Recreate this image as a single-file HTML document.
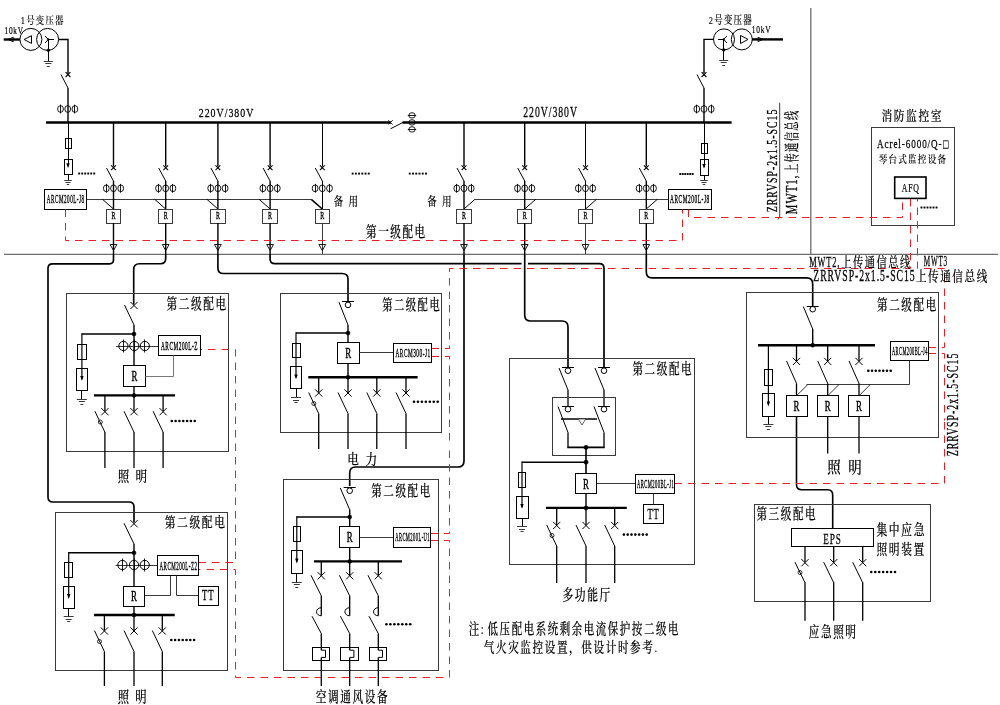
<!DOCTYPE html>
<html lang="zh-CN"><head><meta charset="utf-8"><title>剩余电流式电气火灾监控系统图</title>
<style>html,body{margin:0;padding:0;background:#fff}body{width:1000px;height:705px;overflow:hidden}svg{display:block;will-change:transform}</style>
</head><body>
<svg width="1000" height="705" viewBox="0 0 1000 705" font-family='"Liberation Serif","Noto Serif CJK SC",serif' fill="#000">
<line x1="4" y1="254.4" x2="998" y2="254.4" stroke="#6e6e6e" stroke-width="1.3" stroke-linecap="butt"/>
<line x1="810.8" y1="8" x2="810.8" y2="254.4" stroke="#6e6e6e" stroke-width="1.3" stroke-linecap="butt"/>
<line x1="46" y1="122.4" x2="391" y2="122.4" stroke="#000" stroke-width="2.5" stroke-linecap="butt"/>
<line x1="402.5" y1="122.4" x2="731.6" y2="122.4" stroke="#000" stroke-width="2.5" stroke-linecap="butt"/>
<line x1="388.3" y1="120.2" x2="392.7" y2="124.6" stroke="#000" stroke-width="0.9" stroke-linecap="butt"/>
<line x1="388.3" y1="124.6" x2="392.7" y2="120.2" stroke="#000" stroke-width="0.9" stroke-linecap="butt"/>
<line x1="390.5" y1="128.8" x2="403" y2="122.4" stroke="#000" stroke-width="1" stroke-linecap="butt"/>
<ellipse cx="412" cy="115.4" rx="3.2" ry="2.7" fill="none" stroke="#000" stroke-width="0.9"/>
<line x1="407.8" y1="115.5" x2="416.2" y2="115.5" stroke="#000" stroke-width="0.9" stroke-linecap="butt"/>
<ellipse cx="412" cy="122.4" rx="3.2" ry="2.7" fill="none" stroke="#000" stroke-width="0.9"/>
<ellipse cx="412" cy="129.4" rx="3.2" ry="2.7" fill="none" stroke="#000" stroke-width="0.9"/>
<line x1="407.8" y1="129.5" x2="416.2" y2="129.5" stroke="#000" stroke-width="0.9" stroke-linecap="butt"/>
<circle cx="30.9" cy="39.4" r="11" fill="none" stroke="#000" stroke-width="1"/>
<circle cx="47.6" cy="39.4" r="11" fill="none" stroke="#000" stroke-width="1"/>
<path d="M24.1,39.5 L31.5,35.7 L31.5,43.4 Z" fill="none" stroke="#000" stroke-width="1" stroke-linejoin="miter"/>
<line x1="48.3" y1="39.5" x2="54" y2="39.5" stroke="#000" stroke-width="1" stroke-linecap="butt"/>
<line x1="48.3" y1="39.5" x2="45" y2="36" stroke="#000" stroke-width="1" stroke-linecap="butt"/>
<line x1="48.3" y1="39.5" x2="45" y2="43" stroke="#000" stroke-width="1" stroke-linecap="butt"/>
<line x1="48.5" y1="39.5" x2="48.5" y2="61" stroke="#000" stroke-width="1" stroke-linecap="butt"/>
<circle cx="48.3" cy="50.3" r="1.4" fill="#000" stroke="#000" stroke-width="0.5"/>
<circle cx="48.3" cy="39.5" r="0.9" fill="#000" stroke="#000" stroke-width="0.5"/>
<line x1="43.8" y1="61.5" x2="52.8" y2="61.5" stroke="#3a3a3a" stroke-width="1" stroke-linecap="butt"/>
<line x1="45.3" y1="63.5" x2="51.3" y2="63.5" stroke="#3a3a3a" stroke-width="1" stroke-linecap="butt"/>
<line x1="46.8" y1="66.5" x2="49.8" y2="66.5" stroke="#3a3a3a" stroke-width="1" stroke-linecap="butt"/>
<line x1="3.7" y1="39.5" x2="20" y2="39.5" stroke="#000" stroke-width="2.4" stroke-linecap="butt"/>
<path d="M8.2,39.5 L13.2,37.2 L13.2,41.8 Z" fill="none" stroke="#000" stroke-width="0.9" stroke-linejoin="miter"/>
<path d="M58.6,39.5 H68 V73.5" fill="none" stroke="#000" stroke-width="1.4" stroke-linejoin="miter"/>
<line x1="65.6" y1="72.2" x2="70.4" y2="77" stroke="#000" stroke-width="1.1" stroke-linecap="butt"/>
<line x1="65.6" y1="77" x2="70.4" y2="72.2" stroke="#000" stroke-width="1.1" stroke-linecap="butt"/>
<line x1="61" y1="74.5" x2="68" y2="88" stroke="#000" stroke-width="1" stroke-linecap="butt"/>
<line x1="68" y1="88" x2="68" y2="122.4" stroke="#000" stroke-width="1.4" stroke-linecap="butt"/>
<ellipse cx="60.5" cy="109" rx="2.9" ry="3.4" fill="none" stroke="#000" stroke-width="0.9"/>
<line x1="60.5" y1="104.6" x2="60.5" y2="113.4" stroke="#000" stroke-width="0.9" stroke-linecap="butt"/>
<ellipse cx="67.7" cy="109" rx="2.9" ry="3.4" fill="none" stroke="#000" stroke-width="0.9"/>
<ellipse cx="74.9" cy="109" rx="2.9" ry="3.4" fill="none" stroke="#000" stroke-width="0.9"/>
<line x1="74.5" y1="104.6" x2="74.5" y2="113.4" stroke="#000" stroke-width="0.9" stroke-linecap="butt"/>
<line x1="68.5" y1="122.4" x2="68.5" y2="166.5" stroke="#000" stroke-width="1" stroke-linecap="butt"/>
<rect x="65.5" y="138.5" width="6" height="10" fill="none" stroke="#000" stroke-width="1"/>
<rect x="64.5" y="159.5" width="8" height="15" fill="none" stroke="#000" stroke-width="1"/>
<path d="M66.3,163.3 L68,168.1 L69.7,163.3 Z" fill="#000"/>
<line x1="68.5" y1="174" x2="68.5" y2="180" stroke="#000" stroke-width="1" stroke-linecap="butt"/>
<line x1="64.25" y1="180.5" x2="71.75" y2="180.5" stroke="#3a3a3a" stroke-width="1" stroke-linecap="butt"/>
<line x1="65.5" y1="182.5" x2="70.5" y2="182.5" stroke="#3a3a3a" stroke-width="1" stroke-linecap="butt"/>
<line x1="66.75" y1="184.5" x2="69.25" y2="184.5" stroke="#3a3a3a" stroke-width="1" stroke-linecap="butt"/>
<rect x="78.2" y="172.55" width="1.9" height="1.9" fill="#000"/>
<rect x="81.22" y="172.55" width="1.9" height="1.9" fill="#000"/>
<rect x="84.24" y="172.55" width="1.9" height="1.9" fill="#000"/>
<rect x="87.26" y="172.55" width="1.9" height="1.9" fill="#000"/>
<rect x="90.28" y="172.55" width="1.9" height="1.9" fill="#000"/>
<rect x="93.3" y="172.55" width="1.9" height="1.9" fill="#000"/>
<rect x="44.5" y="189.5" width="42" height="20" fill="none" stroke="#000" stroke-width="1"/>
<circle cx="724" cy="39.4" r="10.5" fill="none" stroke="#000" stroke-width="1"/>
<circle cx="741.8" cy="39.4" r="10.5" fill="none" stroke="#000" stroke-width="1"/>
<path d="M748,39.4 L740.5,35.5 L740.5,43.5 Z" fill="none" stroke="#000" stroke-width="1" stroke-linejoin="miter"/>
<line x1="723.7" y1="39.5" x2="718" y2="39.5" stroke="#000" stroke-width="1" stroke-linecap="butt"/>
<line x1="723.7" y1="39.4" x2="727" y2="36" stroke="#000" stroke-width="1" stroke-linecap="butt"/>
<line x1="723.7" y1="39.4" x2="727" y2="43" stroke="#000" stroke-width="1" stroke-linecap="butt"/>
<line x1="723.5" y1="39.4" x2="723.5" y2="60" stroke="#000" stroke-width="1" stroke-linecap="butt"/>
<circle cx="723.7" cy="50" r="1.4" fill="#000" stroke="#000" stroke-width="0.5"/>
<circle cx="723.7" cy="39.4" r="0.9" fill="#000" stroke="#000" stroke-width="0.5"/>
<line x1="719.2" y1="60.5" x2="728.2" y2="60.5" stroke="#3a3a3a" stroke-width="1" stroke-linecap="butt"/>
<line x1="720.7" y1="62.5" x2="726.7" y2="62.5" stroke="#3a3a3a" stroke-width="1" stroke-linecap="butt"/>
<line x1="722.2" y1="65.5" x2="725.2" y2="65.5" stroke="#3a3a3a" stroke-width="1" stroke-linecap="butt"/>
<line x1="752" y1="39.4" x2="783" y2="39.4" stroke="#000" stroke-width="2.4" stroke-linecap="butt"/>
<path d="M763,39.4 L758,37.2 L758,41.6 Z" fill="none" stroke="#000" stroke-width="0.9" stroke-linejoin="miter"/>
<path d="M714,39.4 H704 V73" fill="none" stroke="#000" stroke-width="1.4" stroke-linejoin="miter"/>
<line x1="701.6" y1="72.2" x2="706.4" y2="77" stroke="#000" stroke-width="1.1" stroke-linecap="butt"/>
<line x1="701.6" y1="77" x2="706.4" y2="72.2" stroke="#000" stroke-width="1.1" stroke-linecap="butt"/>
<line x1="697" y1="74.5" x2="704" y2="88" stroke="#000" stroke-width="1" stroke-linecap="butt"/>
<line x1="704" y1="88" x2="704" y2="122.4" stroke="#000" stroke-width="1.4" stroke-linecap="butt"/>
<ellipse cx="696.8" cy="109" rx="2.9" ry="3.4" fill="none" stroke="#000" stroke-width="0.9"/>
<line x1="696.5" y1="104.6" x2="696.5" y2="113.4" stroke="#000" stroke-width="0.9" stroke-linecap="butt"/>
<ellipse cx="704" cy="109" rx="2.9" ry="3.4" fill="none" stroke="#000" stroke-width="0.9"/>
<ellipse cx="711.2" cy="109" rx="2.9" ry="3.4" fill="none" stroke="#000" stroke-width="0.9"/>
<line x1="711.5" y1="104.6" x2="711.5" y2="113.4" stroke="#000" stroke-width="0.9" stroke-linecap="butt"/>
<line x1="704.5" y1="122.4" x2="704.5" y2="167.15" stroke="#000" stroke-width="1" stroke-linecap="butt"/>
<rect x="701.5" y="143.5" width="6" height="10" fill="none" stroke="#000" stroke-width="1"/>
<rect x="700.5" y="159.5" width="8" height="16" fill="none" stroke="#000" stroke-width="1"/>
<path d="M702.3,163.95 L704,168.75 L705.7,163.95 Z" fill="#000"/>
<line x1="704.5" y1="175.3" x2="704.5" y2="180.7" stroke="#000" stroke-width="1" stroke-linecap="butt"/>
<line x1="700.25" y1="180.5" x2="707.75" y2="180.5" stroke="#3a3a3a" stroke-width="1" stroke-linecap="butt"/>
<line x1="701.5" y1="182.5" x2="706.5" y2="182.5" stroke="#3a3a3a" stroke-width="1" stroke-linecap="butt"/>
<line x1="702.75" y1="184.5" x2="705.25" y2="184.5" stroke="#3a3a3a" stroke-width="1" stroke-linecap="butt"/>
<rect x="679.3" y="173.05" width="1.9" height="1.9" fill="#000"/>
<rect x="681.78" y="173.05" width="1.9" height="1.9" fill="#000"/>
<rect x="684.26" y="173.05" width="1.9" height="1.9" fill="#000"/>
<rect x="686.74" y="173.05" width="1.9" height="1.9" fill="#000"/>
<rect x="689.22" y="173.05" width="1.9" height="1.9" fill="#000"/>
<rect x="691.7" y="173.05" width="1.9" height="1.9" fill="#000"/>
<rect x="668.5" y="189.5" width="43" height="20" fill="none" stroke="#000" stroke-width="1"/>
<line x1="86.7" y1="199.5" x2="311.3" y2="199.5" stroke="#3a3a3a" stroke-width="1" stroke-linecap="butt"/>
<line x1="475" y1="199.5" x2="668.5" y2="199.5" stroke="#3a3a3a" stroke-width="1" stroke-linecap="butt"/>
<line x1="113.5" y1="122.4" x2="113.5" y2="166.5" stroke="#000" stroke-width="1.4" stroke-linecap="butt"/>
<line x1="111.1" y1="165.3" x2="115.9" y2="170.1" stroke="#000" stroke-width="1.1" stroke-linecap="butt"/>
<line x1="111.1" y1="170.1" x2="115.9" y2="165.3" stroke="#000" stroke-width="1.1" stroke-linecap="butt"/>
<line x1="106.5" y1="168" x2="113.5" y2="181" stroke="#000" stroke-width="1" stroke-linecap="butt"/>
<line x1="113.5" y1="181" x2="113.5" y2="209" stroke="#000" stroke-width="1.4" stroke-linecap="butt"/>
<ellipse cx="106.3" cy="188.3" rx="2.9" ry="3.4" fill="none" stroke="#000" stroke-width="0.9"/>
<line x1="106.5" y1="183.9" x2="106.5" y2="192.7" stroke="#000" stroke-width="0.9" stroke-linecap="butt"/>
<ellipse cx="113.5" cy="188.3" rx="2.9" ry="3.4" fill="none" stroke="#000" stroke-width="0.9"/>
<ellipse cx="120.7" cy="188.3" rx="2.9" ry="3.4" fill="none" stroke="#000" stroke-width="0.9"/>
<line x1="120.5" y1="183.9" x2="120.5" y2="192.7" stroke="#000" stroke-width="0.9" stroke-linecap="butt"/>
<line x1="102.5" y1="199.3" x2="113.5" y2="209" stroke="#000" stroke-width="1" stroke-linecap="butt"/>
<rect x="106.5" y="209.5" width="14" height="14" fill="#fff" stroke="#3a3a3a" stroke-width="1"/>
<line x1="113.5" y1="223" x2="113.5" y2="254" stroke="#000" stroke-width="1.4" stroke-linecap="butt"/>
<path d="M110.1,244.5 L116.9,244.5 L113.5,250.5 Z" fill="none" stroke="#000" stroke-width="0.9" stroke-linejoin="miter"/>
<line x1="165.7" y1="122.4" x2="165.7" y2="166.5" stroke="#000" stroke-width="1.4" stroke-linecap="butt"/>
<line x1="163.3" y1="165.3" x2="168.1" y2="170.1" stroke="#000" stroke-width="1.1" stroke-linecap="butt"/>
<line x1="163.3" y1="170.1" x2="168.1" y2="165.3" stroke="#000" stroke-width="1.1" stroke-linecap="butt"/>
<line x1="158.7" y1="168" x2="165.7" y2="181" stroke="#000" stroke-width="1" stroke-linecap="butt"/>
<line x1="165.7" y1="181" x2="165.7" y2="209" stroke="#000" stroke-width="1.4" stroke-linecap="butt"/>
<ellipse cx="158.5" cy="188.3" rx="2.9" ry="3.4" fill="none" stroke="#000" stroke-width="0.9"/>
<line x1="158.5" y1="183.9" x2="158.5" y2="192.7" stroke="#000" stroke-width="0.9" stroke-linecap="butt"/>
<ellipse cx="165.7" cy="188.3" rx="2.9" ry="3.4" fill="none" stroke="#000" stroke-width="0.9"/>
<ellipse cx="172.9" cy="188.3" rx="2.9" ry="3.4" fill="none" stroke="#000" stroke-width="0.9"/>
<line x1="172.5" y1="183.9" x2="172.5" y2="192.7" stroke="#000" stroke-width="0.9" stroke-linecap="butt"/>
<line x1="154.7" y1="199.3" x2="165.7" y2="209" stroke="#000" stroke-width="1" stroke-linecap="butt"/>
<rect x="158.5" y="209.5" width="14" height="14" fill="#fff" stroke="#3a3a3a" stroke-width="1"/>
<line x1="165.7" y1="223" x2="165.7" y2="254" stroke="#000" stroke-width="1.4" stroke-linecap="butt"/>
<path d="M162.3,244.5 L169.1,244.5 L165.7,250.5 Z" fill="none" stroke="#000" stroke-width="0.9" stroke-linejoin="miter"/>
<line x1="217.9" y1="122.4" x2="217.9" y2="166.5" stroke="#000" stroke-width="1.4" stroke-linecap="butt"/>
<line x1="215.5" y1="165.3" x2="220.3" y2="170.1" stroke="#000" stroke-width="1.1" stroke-linecap="butt"/>
<line x1="215.5" y1="170.1" x2="220.3" y2="165.3" stroke="#000" stroke-width="1.1" stroke-linecap="butt"/>
<line x1="210.9" y1="168" x2="217.9" y2="181" stroke="#000" stroke-width="1" stroke-linecap="butt"/>
<line x1="217.9" y1="181" x2="217.9" y2="209" stroke="#000" stroke-width="1.4" stroke-linecap="butt"/>
<ellipse cx="210.7" cy="188.3" rx="2.9" ry="3.4" fill="none" stroke="#000" stroke-width="0.9"/>
<line x1="210.5" y1="183.9" x2="210.5" y2="192.7" stroke="#000" stroke-width="0.9" stroke-linecap="butt"/>
<ellipse cx="217.9" cy="188.3" rx="2.9" ry="3.4" fill="none" stroke="#000" stroke-width="0.9"/>
<ellipse cx="225.1" cy="188.3" rx="2.9" ry="3.4" fill="none" stroke="#000" stroke-width="0.9"/>
<line x1="225.5" y1="183.9" x2="225.5" y2="192.7" stroke="#000" stroke-width="0.9" stroke-linecap="butt"/>
<line x1="206.9" y1="199.3" x2="217.9" y2="209" stroke="#000" stroke-width="1" stroke-linecap="butt"/>
<rect x="210.5" y="209.5" width="15" height="14" fill="#fff" stroke="#3a3a3a" stroke-width="1"/>
<line x1="217.9" y1="223" x2="217.9" y2="254" stroke="#000" stroke-width="1.4" stroke-linecap="butt"/>
<path d="M214.5,244.5 L221.3,244.5 L217.9,250.5 Z" fill="none" stroke="#000" stroke-width="0.9" stroke-linejoin="miter"/>
<line x1="270.1" y1="122.4" x2="270.1" y2="166.5" stroke="#000" stroke-width="1.4" stroke-linecap="butt"/>
<line x1="267.7" y1="165.3" x2="272.5" y2="170.1" stroke="#000" stroke-width="1.1" stroke-linecap="butt"/>
<line x1="267.7" y1="170.1" x2="272.5" y2="165.3" stroke="#000" stroke-width="1.1" stroke-linecap="butt"/>
<line x1="263.1" y1="168" x2="270.1" y2="181" stroke="#000" stroke-width="1" stroke-linecap="butt"/>
<line x1="270.1" y1="181" x2="270.1" y2="209" stroke="#000" stroke-width="1.4" stroke-linecap="butt"/>
<ellipse cx="262.9" cy="188.3" rx="2.9" ry="3.4" fill="none" stroke="#000" stroke-width="0.9"/>
<line x1="262.5" y1="183.9" x2="262.5" y2="192.7" stroke="#000" stroke-width="0.9" stroke-linecap="butt"/>
<ellipse cx="270.1" cy="188.3" rx="2.9" ry="3.4" fill="none" stroke="#000" stroke-width="0.9"/>
<ellipse cx="277.3" cy="188.3" rx="2.9" ry="3.4" fill="none" stroke="#000" stroke-width="0.9"/>
<line x1="277.5" y1="183.9" x2="277.5" y2="192.7" stroke="#000" stroke-width="0.9" stroke-linecap="butt"/>
<line x1="259.1" y1="199.3" x2="270.1" y2="209" stroke="#000" stroke-width="1" stroke-linecap="butt"/>
<rect x="262.5" y="209.5" width="15" height="14" fill="#fff" stroke="#3a3a3a" stroke-width="1"/>
<line x1="270.1" y1="223" x2="270.1" y2="254" stroke="#000" stroke-width="1.4" stroke-linecap="butt"/>
<path d="M266.7,244.5 L273.5,244.5 L270.1,250.5 Z" fill="none" stroke="#000" stroke-width="0.9" stroke-linejoin="miter"/>
<line x1="322.5" y1="122.4" x2="322.5" y2="166.5" stroke="#000" stroke-width="1" stroke-linecap="butt"/>
<line x1="319.9" y1="165.3" x2="324.7" y2="170.1" stroke="#000" stroke-width="1.1" stroke-linecap="butt"/>
<line x1="319.9" y1="170.1" x2="324.7" y2="165.3" stroke="#000" stroke-width="1.1" stroke-linecap="butt"/>
<line x1="315.3" y1="168" x2="322.3" y2="181" stroke="#000" stroke-width="1" stroke-linecap="butt"/>
<line x1="322.5" y1="181" x2="322.5" y2="209" stroke="#000" stroke-width="1" stroke-linecap="butt"/>
<ellipse cx="315.1" cy="188.3" rx="2.9" ry="3.4" fill="none" stroke="#000" stroke-width="0.9"/>
<line x1="315.5" y1="183.9" x2="315.5" y2="192.7" stroke="#000" stroke-width="0.9" stroke-linecap="butt"/>
<ellipse cx="322.3" cy="188.3" rx="2.9" ry="3.4" fill="none" stroke="#000" stroke-width="0.9"/>
<ellipse cx="329.5" cy="188.3" rx="2.9" ry="3.4" fill="none" stroke="#000" stroke-width="0.9"/>
<line x1="329.5" y1="183.9" x2="329.5" y2="192.7" stroke="#000" stroke-width="0.9" stroke-linecap="butt"/>
<line x1="311.3" y1="199.3" x2="322.3" y2="209" stroke="#000" stroke-width="1.6" stroke-linecap="butt"/>
<rect x="315.5" y="209.5" width="14" height="14" fill="#fff" stroke="#3a3a3a" stroke-width="1"/>
<line x1="322.5" y1="223" x2="322.5" y2="254" stroke="#3a3a3a" stroke-width="1" stroke-linecap="butt"/>
<path d="M318.9,244.5 L325.7,244.5 L322.3,250.5 Z" fill="none" stroke="#000" stroke-width="0.9" stroke-linejoin="miter"/>
<line x1="464" y1="122.4" x2="464" y2="166.5" stroke="#000" stroke-width="1.4" stroke-linecap="butt"/>
<line x1="461.6" y1="165.3" x2="466.4" y2="170.1" stroke="#000" stroke-width="1.1" stroke-linecap="butt"/>
<line x1="461.6" y1="170.1" x2="466.4" y2="165.3" stroke="#000" stroke-width="1.1" stroke-linecap="butt"/>
<line x1="457" y1="168" x2="464" y2="181" stroke="#000" stroke-width="1" stroke-linecap="butt"/>
<line x1="464" y1="181" x2="464" y2="209" stroke="#000" stroke-width="1.4" stroke-linecap="butt"/>
<ellipse cx="456.8" cy="188.3" rx="2.9" ry="3.4" fill="none" stroke="#000" stroke-width="0.9"/>
<line x1="456.5" y1="183.9" x2="456.5" y2="192.7" stroke="#000" stroke-width="0.9" stroke-linecap="butt"/>
<ellipse cx="464" cy="188.3" rx="2.9" ry="3.4" fill="none" stroke="#000" stroke-width="0.9"/>
<ellipse cx="471.2" cy="188.3" rx="2.9" ry="3.4" fill="none" stroke="#000" stroke-width="0.9"/>
<line x1="471.5" y1="183.9" x2="471.5" y2="192.7" stroke="#000" stroke-width="0.9" stroke-linecap="butt"/>
<line x1="475" y1="199.3" x2="464" y2="209" stroke="#000" stroke-width="1" stroke-linecap="butt"/>
<rect x="456.5" y="209.5" width="15" height="14" fill="#fff" stroke="#3a3a3a" stroke-width="1"/>
<line x1="464" y1="223" x2="464" y2="254" stroke="#000" stroke-width="1.4" stroke-linecap="butt"/>
<path d="M460.6,244.5 L467.4,244.5 L464,250.5 Z" fill="none" stroke="#000" stroke-width="0.9" stroke-linejoin="miter"/>
<line x1="524.7" y1="122.4" x2="524.7" y2="166.5" stroke="#000" stroke-width="1.4" stroke-linecap="butt"/>
<line x1="522.3" y1="165.3" x2="527.1" y2="170.1" stroke="#000" stroke-width="1.1" stroke-linecap="butt"/>
<line x1="522.3" y1="170.1" x2="527.1" y2="165.3" stroke="#000" stroke-width="1.1" stroke-linecap="butt"/>
<line x1="517.7" y1="168" x2="524.7" y2="181" stroke="#000" stroke-width="1" stroke-linecap="butt"/>
<line x1="524.7" y1="181" x2="524.7" y2="209" stroke="#000" stroke-width="1.4" stroke-linecap="butt"/>
<ellipse cx="517.5" cy="188.3" rx="2.9" ry="3.4" fill="none" stroke="#000" stroke-width="0.9"/>
<line x1="517.5" y1="183.9" x2="517.5" y2="192.7" stroke="#000" stroke-width="0.9" stroke-linecap="butt"/>
<ellipse cx="524.7" cy="188.3" rx="2.9" ry="3.4" fill="none" stroke="#000" stroke-width="0.9"/>
<ellipse cx="531.9" cy="188.3" rx="2.9" ry="3.4" fill="none" stroke="#000" stroke-width="0.9"/>
<line x1="531.5" y1="183.9" x2="531.5" y2="192.7" stroke="#000" stroke-width="0.9" stroke-linecap="butt"/>
<line x1="535.7" y1="199.3" x2="524.7" y2="209" stroke="#000" stroke-width="1" stroke-linecap="butt"/>
<rect x="517.5" y="209.5" width="14" height="14" fill="#fff" stroke="#3a3a3a" stroke-width="1"/>
<line x1="524.7" y1="223" x2="524.7" y2="254" stroke="#000" stroke-width="1.4" stroke-linecap="butt"/>
<path d="M521.3,244.5 L528.1,244.5 L524.7,250.5 Z" fill="none" stroke="#000" stroke-width="0.9" stroke-linejoin="miter"/>
<line x1="585.5" y1="122.4" x2="585.5" y2="166.5" stroke="#000" stroke-width="1" stroke-linecap="butt"/>
<line x1="583.1" y1="165.3" x2="587.9" y2="170.1" stroke="#000" stroke-width="1.1" stroke-linecap="butt"/>
<line x1="583.1" y1="170.1" x2="587.9" y2="165.3" stroke="#000" stroke-width="1.1" stroke-linecap="butt"/>
<line x1="578.5" y1="168" x2="585.5" y2="181" stroke="#000" stroke-width="1" stroke-linecap="butt"/>
<line x1="585.5" y1="181" x2="585.5" y2="209" stroke="#000" stroke-width="1" stroke-linecap="butt"/>
<ellipse cx="578.3" cy="188.3" rx="2.9" ry="3.4" fill="none" stroke="#000" stroke-width="0.9"/>
<line x1="578.5" y1="183.9" x2="578.5" y2="192.7" stroke="#000" stroke-width="0.9" stroke-linecap="butt"/>
<ellipse cx="585.5" cy="188.3" rx="2.9" ry="3.4" fill="none" stroke="#000" stroke-width="0.9"/>
<ellipse cx="592.7" cy="188.3" rx="2.9" ry="3.4" fill="none" stroke="#000" stroke-width="0.9"/>
<line x1="592.5" y1="183.9" x2="592.5" y2="192.7" stroke="#000" stroke-width="0.9" stroke-linecap="butt"/>
<line x1="596.5" y1="199.3" x2="585.5" y2="209" stroke="#000" stroke-width="1" stroke-linecap="butt"/>
<rect x="578.5" y="209.5" width="14" height="14" fill="#fff" stroke="#3a3a3a" stroke-width="1"/>
<line x1="585.5" y1="223" x2="585.5" y2="254" stroke="#3a3a3a" stroke-width="1" stroke-linecap="butt"/>
<path d="M582.1,244.5 L588.9,244.5 L585.5,250.5 Z" fill="none" stroke="#000" stroke-width="0.9" stroke-linejoin="miter"/>
<line x1="646.3" y1="122.4" x2="646.3" y2="166.5" stroke="#000" stroke-width="1.4" stroke-linecap="butt"/>
<line x1="643.9" y1="165.3" x2="648.7" y2="170.1" stroke="#000" stroke-width="1.1" stroke-linecap="butt"/>
<line x1="643.9" y1="170.1" x2="648.7" y2="165.3" stroke="#000" stroke-width="1.1" stroke-linecap="butt"/>
<line x1="639.3" y1="168" x2="646.3" y2="181" stroke="#000" stroke-width="1" stroke-linecap="butt"/>
<line x1="646.3" y1="181" x2="646.3" y2="209" stroke="#000" stroke-width="1.4" stroke-linecap="butt"/>
<ellipse cx="639.1" cy="188.3" rx="2.9" ry="3.4" fill="none" stroke="#000" stroke-width="0.9"/>
<line x1="639.5" y1="183.9" x2="639.5" y2="192.7" stroke="#000" stroke-width="0.9" stroke-linecap="butt"/>
<ellipse cx="646.3" cy="188.3" rx="2.9" ry="3.4" fill="none" stroke="#000" stroke-width="0.9"/>
<ellipse cx="653.5" cy="188.3" rx="2.9" ry="3.4" fill="none" stroke="#000" stroke-width="0.9"/>
<line x1="653.5" y1="183.9" x2="653.5" y2="192.7" stroke="#000" stroke-width="0.9" stroke-linecap="butt"/>
<line x1="657.3" y1="199.3" x2="646.3" y2="209" stroke="#000" stroke-width="1" stroke-linecap="butt"/>
<rect x="639.5" y="209.5" width="14" height="14" fill="#fff" stroke="#3a3a3a" stroke-width="1"/>
<line x1="646.3" y1="223" x2="646.3" y2="254" stroke="#000" stroke-width="1.4" stroke-linecap="butt"/>
<path d="M642.9,244.5 L649.7,244.5 L646.3,250.5 Z" fill="none" stroke="#000" stroke-width="0.9" stroke-linejoin="miter"/>
<rect x="351.7" y="172.65" width="1.9" height="1.9" fill="#000"/>
<rect x="354.92" y="172.65" width="1.9" height="1.9" fill="#000"/>
<rect x="358.14" y="172.65" width="1.9" height="1.9" fill="#000"/>
<rect x="361.36" y="172.65" width="1.9" height="1.9" fill="#000"/>
<rect x="364.58" y="172.65" width="1.9" height="1.9" fill="#000"/>
<rect x="367.8" y="172.65" width="1.9" height="1.9" fill="#000"/>
<rect x="408.8" y="172.65" width="1.9" height="1.9" fill="#000"/>
<rect x="412.04" y="172.65" width="1.9" height="1.9" fill="#000"/>
<rect x="415.28" y="172.65" width="1.9" height="1.9" fill="#000"/>
<rect x="418.52" y="172.65" width="1.9" height="1.9" fill="#000"/>
<rect x="421.76" y="172.65" width="1.9" height="1.9" fill="#000"/>
<rect x="425" y="172.65" width="1.9" height="1.9" fill="#000"/>
<rect x="871.5" y="127.5" width="83" height="98" fill="none" stroke="#3a3a3a" stroke-width="1"/>
<rect x="894.7" y="177" width="31.3" height="21.4" fill="none" stroke="#000" stroke-width="1.6"/>
<rect x="920.5" y="206.55" width="1.9" height="1.9" fill="#000"/>
<rect x="923.52" y="206.55" width="1.9" height="1.9" fill="#000"/>
<rect x="926.54" y="206.55" width="1.9" height="1.9" fill="#000"/>
<rect x="929.56" y="206.55" width="1.9" height="1.9" fill="#000"/>
<rect x="932.58" y="206.55" width="1.9" height="1.9" fill="#000"/>
<rect x="935.6" y="206.55" width="1.9" height="1.9" fill="#000"/>
<path d="M779.7,102.8 V217 L778,219.5" fill="none" stroke="#3a3a3a" stroke-width="1" stroke-linejoin="miter"/>
<path d="M113.5,254 V259.8 Q113.5,263.8 109.5,263.8 H52.5 Q48,263.8 48,268.3 V497 Q48,502 53,502 H129 Q134,502 134,507 V522.5" fill="none" stroke="#000" stroke-width="1.65" stroke-linejoin="round"/>
<path d="M165.7,254 V258.5 Q165.7,263.7 160.5,263.7 H139.5 Q133.7,263.7 133.7,269.5 V304.5" fill="none" stroke="#000" stroke-width="1.65" stroke-linejoin="round"/>
<path d="M217.9,254 V268 Q217.9,273.5 223.5,273.5 H342 Q348,273.5 348,279 V301" fill="none" stroke="#000" stroke-width="1.65" stroke-linejoin="round"/>
<path d="M270.1,254 V259 Q270.1,263.7 275,263.7 H521.6 M528,263.7 H599.5 Q604,263.7 604,268.5 V367" fill="none" stroke="#000" stroke-width="1.7" stroke-linejoin="round"/>
<path d="M464,254 V461 Q464,467 458,467 H355.7 Q349.7,467 349.7,473 V486" fill="none" stroke="#000" stroke-width="1.65" stroke-linejoin="round"/>
<path d="M524.7,254 V315 Q524.7,321 530.5,321 H562 Q568,321 568,327 V367" fill="none" stroke="#000" stroke-width="1.65" stroke-linejoin="round"/>
<path d="M646.3,254 V272 Q646.3,277.8 652,277.8 H806.7 Q812.7,277.8 812.7,284 V306" fill="none" stroke="#000" stroke-width="1.65" stroke-linejoin="round"/>
<path d="M796.5,416 V484.5 Q796.5,489.7 801.5,489.7 H827.7 Q832.7,489.7 832.7,495 V528.5" fill="none" stroke="#000" stroke-width="1.6" stroke-linejoin="round"/>
<path d="M65.5,209.5 V240.5 H682.5 V209.5" fill="none" stroke="#ee1c24" stroke-width="1" stroke-linejoin="miter" stroke-dasharray="7.5 6"/>
<path d="M688.5,209.5 V217.5 H902.5 V198.5" fill="none" stroke="#ee1c24" stroke-width="1" stroke-linejoin="miter" stroke-dasharray="7.5 6"/>
<path d="M431.5,348.5 H449.5 V268.5 H910.5 V198.5" fill="none" stroke="#ee1c24" stroke-width="1" stroke-linejoin="miter" stroke-dasharray="7.5 6"/>
<path d="M431.5,356.5 H449.5 V445.5" fill="none" stroke="#ee1c24" stroke-width="1" stroke-linejoin="miter" stroke-dasharray="7.5 6"/>
<path d="M430.5,533.5 H449.5 V445.5" fill="none" stroke="#ee1c24" stroke-width="1" stroke-linejoin="miter" stroke-dasharray="7.5 6"/>
<path d="M430.5,540.5 H449.5 V677.5 H235.5 V569.5 H198.5" fill="none" stroke="#ee1c24" stroke-width="1" stroke-linejoin="miter" stroke-dasharray="7.5 6"/>
<path d="M198.5,562.5 H235.5 V349.5 H200.5" fill="none" stroke="#ee1c24" stroke-width="1" stroke-linejoin="miter" stroke-dasharray="7.5 6"/>
<path d="M928.5,347.5 H944.5 V268.5 H917.5 V198.5" fill="none" stroke="#ee1c24" stroke-width="1" stroke-linejoin="miter" stroke-dasharray="7.5 6"/>
<path d="M928.5,353.5 H944.5 V420.5" fill="none" stroke="#ee1c24" stroke-width="1" stroke-linejoin="miter" stroke-dasharray="7.5 6"/>
<path d="M674.5,483.5 H944.5 V420.5" fill="none" stroke="#ee1c24" stroke-width="1" stroke-linejoin="miter" stroke-dasharray="7.5 6"/>
<rect x="66.5" y="293.5" width="162" height="158" fill="none" stroke="#3a3a3a" stroke-width="1"/>
<line x1="130.4" y1="301.9" x2="137.6" y2="309.1" stroke="#000" stroke-width="1" stroke-linecap="butt"/>
<line x1="130.4" y1="309.1" x2="137.6" y2="301.9" stroke="#000" stroke-width="1" stroke-linecap="butt"/>
<line x1="124.5" y1="305" x2="134" y2="325" stroke="#000" stroke-width="1" stroke-linecap="butt"/>
<line x1="134" y1="325" x2="134" y2="365.5" stroke="#000" stroke-width="1.4" stroke-linecap="butt"/>
<circle cx="134" cy="334" r="2" fill="#000" stroke="#000" stroke-width="0.5"/>
<path d="M134,334 H81.9" fill="none" stroke="#000" stroke-width="1.4" stroke-linejoin="miter"/>
<line x1="81.9" y1="333.2" x2="81.9" y2="379.2" stroke="#000" stroke-width="1.2" stroke-linecap="butt"/>
<rect x="77.5" y="344.5" width="9" height="15" fill="none" stroke="#000" stroke-width="1"/>
<rect x="76.5" y="368.5" width="11" height="22" fill="none" stroke="#000" stroke-width="1"/>
<path d="M80.2,376 L81.9,380.8 L83.6,376 Z" fill="#000"/>
<line x1="81.5" y1="390.4" x2="81.5" y2="399" stroke="#000" stroke-width="1" stroke-linecap="butt"/>
<line x1="76.9" y1="399.5" x2="86.9" y2="399.5" stroke="#3a3a3a" stroke-width="1" stroke-linecap="butt"/>
<line x1="78.9" y1="401.5" x2="84.9" y2="401.5" stroke="#3a3a3a" stroke-width="1" stroke-linecap="butt"/>
<line x1="80.4" y1="404.5" x2="83.4" y2="404.5" stroke="#3a3a3a" stroke-width="1" stroke-linecap="butt"/>
<line x1="116" y1="346.5" x2="158.6" y2="346.5" stroke="#3a3a3a" stroke-width="1" stroke-linecap="butt"/>
<circle cx="123.4" cy="346" r="4.6" fill="none" stroke="#000" stroke-width="1"/>
<line x1="123.5" y1="339.5" x2="123.5" y2="352.5" stroke="#000" stroke-width="0.9" stroke-linecap="butt"/>
<circle cx="134.3" cy="346" r="4.6" fill="none" stroke="#000" stroke-width="1"/>
<line x1="134.5" y1="339.5" x2="134.5" y2="352.5" stroke="#000" stroke-width="0.9" stroke-linecap="butt"/>
<circle cx="144.8" cy="346" r="4.6" fill="none" stroke="#000" stroke-width="1"/>
<line x1="144.5" y1="339.5" x2="144.5" y2="352.5" stroke="#000" stroke-width="0.9" stroke-linecap="butt"/>
<rect x="158.5" y="335.5" width="42" height="20" fill="none" stroke="#000" stroke-width="1"/>
<rect x="123.5" y="365.5" width="22" height="21" fill="#fff" stroke="#000" stroke-width="1"/>
<path d="M145.5,376.5 H173.5 V355.5" fill="none" stroke="#777" stroke-width="1" stroke-linejoin="miter"/>
<line x1="134" y1="386" x2="134" y2="395.4" stroke="#000" stroke-width="1.4" stroke-linecap="butt"/>
<line x1="94" y1="395.4" x2="175" y2="395.4" stroke="#000" stroke-width="2.4" stroke-linecap="butt"/>
<circle cx="134" cy="395.4" r="2" fill="#000" stroke="#000" stroke-width="0.5"/>
<line x1="104.9" y1="395.4" x2="104.9" y2="411" stroke="#000" stroke-width="1.3" stroke-linecap="butt"/>
<line x1="101.3" y1="408.1" x2="108.5" y2="415.3" stroke="#000" stroke-width="1" stroke-linecap="butt"/>
<line x1="101.3" y1="415.3" x2="108.5" y2="408.1" stroke="#000" stroke-width="1" stroke-linecap="butt"/>
<line x1="94.9" y1="411.2" x2="104.9" y2="432.2" stroke="#000" stroke-width="1" stroke-linecap="butt"/>
<line x1="104.9" y1="432" x2="104.9" y2="468" stroke="#000" stroke-width="1.3" stroke-linecap="butt"/>
<line x1="134" y1="395.4" x2="134" y2="411" stroke="#000" stroke-width="1.3" stroke-linecap="butt"/>
<line x1="130.4" y1="408.1" x2="137.6" y2="415.3" stroke="#000" stroke-width="1" stroke-linecap="butt"/>
<line x1="130.4" y1="415.3" x2="137.6" y2="408.1" stroke="#000" stroke-width="1" stroke-linecap="butt"/>
<line x1="124" y1="411.2" x2="134" y2="432.2" stroke="#000" stroke-width="1" stroke-linecap="butt"/>
<line x1="134" y1="432" x2="134" y2="468" stroke="#000" stroke-width="1.3" stroke-linecap="butt"/>
<line x1="163.1" y1="395.4" x2="163.1" y2="411" stroke="#000" stroke-width="1.3" stroke-linecap="butt"/>
<line x1="159.5" y1="408.1" x2="166.7" y2="415.3" stroke="#000" stroke-width="1" stroke-linecap="butt"/>
<line x1="159.5" y1="415.3" x2="166.7" y2="408.1" stroke="#000" stroke-width="1" stroke-linecap="butt"/>
<line x1="153.1" y1="411.2" x2="163.1" y2="432.2" stroke="#000" stroke-width="1" stroke-linecap="butt"/>
<line x1="163.1" y1="432" x2="163.1" y2="468" stroke="#000" stroke-width="1.3" stroke-linecap="butt"/>
<circle cx="100.3" cy="422" r="2" fill="none" stroke="#000" stroke-width="0.8"/>
<circle cx="171.8" cy="421" r="1.3" fill="#000"/>
<circle cx="175.62" cy="421" r="1.3" fill="#000"/>
<circle cx="179.43" cy="421" r="1.3" fill="#000"/>
<circle cx="183.25" cy="421" r="1.3" fill="#000"/>
<circle cx="187.07" cy="421" r="1.3" fill="#000"/>
<circle cx="190.88" cy="421" r="1.3" fill="#000"/>
<circle cx="194.7" cy="421" r="1.3" fill="#000"/>
<rect x="55.5" y="512.5" width="172" height="158" fill="none" stroke="#3a3a3a" stroke-width="1"/>
<line x1="130.4" y1="520.1" x2="137.6" y2="527.3" stroke="#000" stroke-width="1" stroke-linecap="butt"/>
<line x1="130.4" y1="527.3" x2="137.6" y2="520.1" stroke="#000" stroke-width="1" stroke-linecap="butt"/>
<line x1="124" y1="523.2" x2="134" y2="544" stroke="#000" stroke-width="1" stroke-linecap="butt"/>
<line x1="134" y1="544" x2="134" y2="586" stroke="#000" stroke-width="1.4" stroke-linecap="butt"/>
<circle cx="134" cy="552.8" r="2" fill="#000" stroke="#000" stroke-width="0.5"/>
<path d="M134,552.8 H68.7" fill="none" stroke="#000" stroke-width="1.4" stroke-linejoin="miter"/>
<line x1="68.7" y1="552" x2="68.7" y2="597.3" stroke="#000" stroke-width="1.2" stroke-linecap="butt"/>
<rect x="64.5" y="562.5" width="8" height="15" fill="none" stroke="#000" stroke-width="1"/>
<rect x="63.5" y="586.5" width="11" height="22" fill="none" stroke="#000" stroke-width="1"/>
<path d="M67,594.1 L68.7,598.9 L70.4,594.1 Z" fill="#000"/>
<line x1="68.5" y1="608" x2="68.5" y2="616.7" stroke="#000" stroke-width="1" stroke-linecap="butt"/>
<line x1="63.7" y1="616.5" x2="73.7" y2="616.5" stroke="#3a3a3a" stroke-width="1" stroke-linecap="butt"/>
<line x1="65.7" y1="619.5" x2="71.7" y2="619.5" stroke="#3a3a3a" stroke-width="1" stroke-linecap="butt"/>
<line x1="67.2" y1="621.5" x2="70.2" y2="621.5" stroke="#3a3a3a" stroke-width="1" stroke-linecap="butt"/>
<line x1="115.7" y1="565.5" x2="157.8" y2="565.5" stroke="#3a3a3a" stroke-width="1" stroke-linecap="butt"/>
<circle cx="122.4" cy="565" r="4.6" fill="none" stroke="#000" stroke-width="1"/>
<line x1="122.5" y1="558.5" x2="122.5" y2="571.5" stroke="#000" stroke-width="0.9" stroke-linecap="butt"/>
<circle cx="134" cy="565" r="4.6" fill="none" stroke="#000" stroke-width="1"/>
<line x1="134.5" y1="558.5" x2="134.5" y2="571.5" stroke="#000" stroke-width="0.9" stroke-linecap="butt"/>
<circle cx="144.7" cy="565" r="4.6" fill="none" stroke="#000" stroke-width="1"/>
<line x1="144.5" y1="558.5" x2="144.5" y2="571.5" stroke="#000" stroke-width="0.9" stroke-linecap="butt"/>
<rect x="157.5" y="555.5" width="41" height="20" fill="none" stroke="#000" stroke-width="1"/>
<rect x="123.5" y="586.5" width="21" height="20" fill="#fff" stroke="#000" stroke-width="1"/>
<path d="M145,595.5 H170.5 V575.5" fill="none" stroke="#222" stroke-width="0.9" stroke-linejoin="miter"/>
<rect x="198.5" y="586.5" width="20" height="19" fill="none" stroke="#000" stroke-width="1"/>
<path d="M198,595.5 H176.5 V575.5" fill="none" stroke="#222" stroke-width="0.9" stroke-linejoin="miter"/>
<line x1="134" y1="606.5" x2="134" y2="615" stroke="#000" stroke-width="1.4" stroke-linecap="butt"/>
<line x1="94" y1="615" x2="174.7" y2="615" stroke="#000" stroke-width="2.4" stroke-linecap="butt"/>
<circle cx="134" cy="615" r="2" fill="#000" stroke="#000" stroke-width="0.5"/>
<line x1="104.4" y1="615" x2="104.4" y2="630.5" stroke="#000" stroke-width="1.3" stroke-linecap="butt"/>
<line x1="100.8" y1="627.4" x2="108" y2="634.6" stroke="#000" stroke-width="1" stroke-linecap="butt"/>
<line x1="100.8" y1="634.6" x2="108" y2="627.4" stroke="#000" stroke-width="1" stroke-linecap="butt"/>
<line x1="94.4" y1="630.5" x2="104.4" y2="651.5" stroke="#000" stroke-width="1" stroke-linecap="butt"/>
<line x1="104.4" y1="651.5" x2="104.4" y2="686" stroke="#000" stroke-width="1.3" stroke-linecap="butt"/>
<line x1="134" y1="615" x2="134" y2="630.5" stroke="#000" stroke-width="1.3" stroke-linecap="butt"/>
<line x1="130.4" y1="627.4" x2="137.6" y2="634.6" stroke="#000" stroke-width="1" stroke-linecap="butt"/>
<line x1="130.4" y1="634.6" x2="137.6" y2="627.4" stroke="#000" stroke-width="1" stroke-linecap="butt"/>
<line x1="124" y1="630.5" x2="134" y2="651.5" stroke="#000" stroke-width="1" stroke-linecap="butt"/>
<line x1="134" y1="651.5" x2="134" y2="686" stroke="#000" stroke-width="1.3" stroke-linecap="butt"/>
<line x1="162.3" y1="615" x2="162.3" y2="630.5" stroke="#000" stroke-width="1.3" stroke-linecap="butt"/>
<line x1="158.7" y1="627.4" x2="165.9" y2="634.6" stroke="#000" stroke-width="1" stroke-linecap="butt"/>
<line x1="158.7" y1="634.6" x2="165.9" y2="627.4" stroke="#000" stroke-width="1" stroke-linecap="butt"/>
<line x1="152.3" y1="630.5" x2="162.3" y2="651.5" stroke="#000" stroke-width="1" stroke-linecap="butt"/>
<line x1="162.3" y1="651.5" x2="162.3" y2="686" stroke="#000" stroke-width="1.3" stroke-linecap="butt"/>
<circle cx="99.5" cy="641.5" r="2" fill="none" stroke="#000" stroke-width="0.8"/>
<circle cx="171.3" cy="640" r="1.3" fill="#000"/>
<circle cx="175.1" cy="640" r="1.3" fill="#000"/>
<circle cx="178.9" cy="640" r="1.3" fill="#000"/>
<circle cx="182.7" cy="640" r="1.3" fill="#000"/>
<circle cx="186.5" cy="640" r="1.3" fill="#000"/>
<circle cx="190.3" cy="640" r="1.3" fill="#000"/>
<circle cx="194.1" cy="640" r="1.3" fill="#000"/>
<rect x="280.5" y="293.5" width="161" height="139" fill="none" stroke="#3a3a3a" stroke-width="1"/>
<line x1="342" y1="301.5" x2="354" y2="301.5" stroke="#000" stroke-width="1" stroke-linecap="butt"/>
<circle cx="348" cy="304.9" r="2.8" fill="none" stroke="#000" stroke-width="1"/>
<line x1="339" y1="302.2" x2="348" y2="325" stroke="#000" stroke-width="1" stroke-linecap="butt"/>
<line x1="348" y1="325" x2="348" y2="342.4" stroke="#000" stroke-width="1.4" stroke-linecap="butt"/>
<circle cx="348" cy="333" r="2" fill="#000" stroke="#000" stroke-width="0.5"/>
<path d="M348,333 H296" fill="none" stroke="#000" stroke-width="1.4" stroke-linejoin="miter"/>
<line x1="296" y1="332.2" x2="296" y2="377.6" stroke="#000" stroke-width="1.2" stroke-linecap="butt"/>
<rect x="292.5" y="343.5" width="8" height="14" fill="none" stroke="#000" stroke-width="1"/>
<rect x="290.5" y="366.5" width="11" height="22" fill="none" stroke="#000" stroke-width="1"/>
<path d="M294.3,374.4 L296,379.2 L297.7,374.4 Z" fill="#000"/>
<line x1="296.5" y1="388.7" x2="296.5" y2="397.5" stroke="#000" stroke-width="1" stroke-linecap="butt"/>
<line x1="291" y1="397.5" x2="301" y2="397.5" stroke="#3a3a3a" stroke-width="1" stroke-linecap="butt"/>
<line x1="293" y1="400.5" x2="299" y2="400.5" stroke="#3a3a3a" stroke-width="1" stroke-linecap="butt"/>
<line x1="294.5" y1="402.5" x2="297.5" y2="402.5" stroke="#3a3a3a" stroke-width="1" stroke-linecap="butt"/>
<rect x="337.5" y="342.5" width="22" height="21" fill="#fff" stroke="#000" stroke-width="1"/>
<line x1="359" y1="352.5" x2="393.8" y2="352.5" stroke="#222" stroke-width="0.9" stroke-linecap="butt"/>
<rect x="393.5" y="343.5" width="38" height="19" fill="none" stroke="#000" stroke-width="1"/>
<line x1="348" y1="363.3" x2="348" y2="377.3" stroke="#000" stroke-width="1.4" stroke-linecap="butt"/>
<line x1="308.3" y1="377.3" x2="417.6" y2="377.3" stroke="#000" stroke-width="2.4" stroke-linecap="butt"/>
<circle cx="348" cy="377.3" r="2" fill="#000" stroke="#000" stroke-width="0.5"/>
<line x1="318.7" y1="377.3" x2="318.7" y2="392.5" stroke="#000" stroke-width="1.3" stroke-linecap="butt"/>
<line x1="315.1" y1="389.4" x2="322.3" y2="396.6" stroke="#000" stroke-width="1" stroke-linecap="butt"/>
<line x1="315.1" y1="396.6" x2="322.3" y2="389.4" stroke="#000" stroke-width="1" stroke-linecap="butt"/>
<line x1="308.7" y1="392.5" x2="318.7" y2="413.5" stroke="#000" stroke-width="1" stroke-linecap="butt"/>
<line x1="318.7" y1="413.5" x2="318.7" y2="449" stroke="#000" stroke-width="1.3" stroke-linecap="butt"/>
<line x1="348" y1="377.3" x2="348" y2="392.5" stroke="#000" stroke-width="1.3" stroke-linecap="butt"/>
<line x1="344.4" y1="389.4" x2="351.6" y2="396.6" stroke="#000" stroke-width="1" stroke-linecap="butt"/>
<line x1="344.4" y1="396.6" x2="351.6" y2="389.4" stroke="#000" stroke-width="1" stroke-linecap="butt"/>
<line x1="338" y1="392.5" x2="348" y2="413.5" stroke="#000" stroke-width="1" stroke-linecap="butt"/>
<line x1="348" y1="413.5" x2="348" y2="449" stroke="#000" stroke-width="1.3" stroke-linecap="butt"/>
<line x1="376.8" y1="377.3" x2="376.8" y2="392.5" stroke="#000" stroke-width="1.3" stroke-linecap="butt"/>
<line x1="373.2" y1="389.4" x2="380.4" y2="396.6" stroke="#000" stroke-width="1" stroke-linecap="butt"/>
<line x1="373.2" y1="396.6" x2="380.4" y2="389.4" stroke="#000" stroke-width="1" stroke-linecap="butt"/>
<line x1="366.8" y1="392.5" x2="376.8" y2="413.5" stroke="#000" stroke-width="1" stroke-linecap="butt"/>
<line x1="376.8" y1="413.5" x2="376.8" y2="449" stroke="#000" stroke-width="1.3" stroke-linecap="butt"/>
<line x1="406" y1="377.3" x2="406" y2="392.5" stroke="#000" stroke-width="1.3" stroke-linecap="butt"/>
<line x1="402.4" y1="389.4" x2="409.6" y2="396.6" stroke="#000" stroke-width="1" stroke-linecap="butt"/>
<line x1="402.4" y1="396.6" x2="409.6" y2="389.4" stroke="#000" stroke-width="1" stroke-linecap="butt"/>
<line x1="396" y1="392.5" x2="406" y2="413.5" stroke="#000" stroke-width="1" stroke-linecap="butt"/>
<line x1="406" y1="413.5" x2="406" y2="449" stroke="#000" stroke-width="1.3" stroke-linecap="butt"/>
<circle cx="313.8" cy="403.5" r="2" fill="none" stroke="#000" stroke-width="0.8"/>
<circle cx="414" cy="401.8" r="1.3" fill="#000"/>
<circle cx="417.95" cy="401.8" r="1.3" fill="#000"/>
<circle cx="421.9" cy="401.8" r="1.3" fill="#000"/>
<circle cx="425.85" cy="401.8" r="1.3" fill="#000"/>
<circle cx="429.8" cy="401.8" r="1.3" fill="#000"/>
<circle cx="433.75" cy="401.8" r="1.3" fill="#000"/>
<circle cx="437.7" cy="401.8" r="1.3" fill="#000"/>
<rect x="283.5" y="479.5" width="155" height="191" fill="none" stroke="#3a3a3a" stroke-width="1"/>
<line x1="343.7" y1="487.5" x2="355.7" y2="487.5" stroke="#000" stroke-width="1" stroke-linecap="butt"/>
<circle cx="349.7" cy="490.7" r="2.8" fill="none" stroke="#000" stroke-width="1"/>
<line x1="340.3" y1="488" x2="349.7" y2="509.7" stroke="#000" stroke-width="1" stroke-linecap="butt"/>
<line x1="349.7" y1="509.5" x2="349.7" y2="526.7" stroke="#000" stroke-width="1.4" stroke-linecap="butt"/>
<circle cx="349.7" cy="517" r="2" fill="#000" stroke="#000" stroke-width="0.5"/>
<path d="M349.7,517 H296.5" fill="none" stroke="#000" stroke-width="1.4" stroke-linejoin="miter"/>
<line x1="296.8" y1="516.2" x2="296.8" y2="561.8" stroke="#000" stroke-width="1.2" stroke-linecap="butt"/>
<rect x="293.5" y="526.5" width="7" height="15" fill="none" stroke="#000" stroke-width="1"/>
<rect x="291.5" y="550.5" width="11" height="23" fill="none" stroke="#000" stroke-width="1"/>
<path d="M295.1,558.6 L296.8,563.4 L298.5,558.6 Z" fill="#000"/>
<line x1="296.5" y1="573" x2="296.5" y2="582" stroke="#000" stroke-width="1" stroke-linecap="butt"/>
<line x1="291.8" y1="582.5" x2="301.8" y2="582.5" stroke="#3a3a3a" stroke-width="1" stroke-linecap="butt"/>
<line x1="293.8" y1="584.5" x2="299.8" y2="584.5" stroke="#3a3a3a" stroke-width="1" stroke-linecap="butt"/>
<line x1="295.3" y1="587.5" x2="298.3" y2="587.5" stroke="#3a3a3a" stroke-width="1" stroke-linecap="butt"/>
<rect x="339.5" y="526.5" width="20" height="21" fill="#fff" stroke="#000" stroke-width="1"/>
<line x1="359.5" y1="537.5" x2="393.9" y2="537.5" stroke="#222" stroke-width="0.9" stroke-linecap="butt"/>
<rect x="393.5" y="527.5" width="37" height="20" fill="none" stroke="#000" stroke-width="1"/>
<line x1="349.7" y1="547.7" x2="349.7" y2="561.4" stroke="#000" stroke-width="1.4" stroke-linecap="butt"/>
<line x1="314" y1="561.4" x2="402" y2="561.4" stroke="#000" stroke-width="2.4" stroke-linecap="butt"/>
<circle cx="349.7" cy="561.4" r="2" fill="#000" stroke="#000" stroke-width="0.5"/>
<line x1="321.3" y1="561.4" x2="321.3" y2="575.5" stroke="#000" stroke-width="1.3" stroke-linecap="butt"/>
<line x1="317.7" y1="572.2" x2="324.9" y2="579.4" stroke="#000" stroke-width="1" stroke-linecap="butt"/>
<line x1="317.7" y1="579.4" x2="324.9" y2="572.2" stroke="#000" stroke-width="1" stroke-linecap="butt"/>
<line x1="311" y1="575.3" x2="321.3" y2="595.8" stroke="#000" stroke-width="1" stroke-linecap="butt"/>
<line x1="321.3" y1="595.7" x2="321.3" y2="615.8" stroke="#000" stroke-width="1.3" stroke-linecap="butt"/>
<path d="M321.3,607.7 A4.8,4.05 0 0 0 321.3,615.8" fill="none" stroke="#000" stroke-width="1" stroke-linejoin="round"/>
<line x1="312" y1="616.2" x2="321.3" y2="633.5" stroke="#000" stroke-width="1" stroke-linecap="butt"/>
<line x1="321.3" y1="633.5" x2="321.3" y2="650.2" stroke="#000" stroke-width="1.3" stroke-linecap="butt"/>
<rect x="312.5" y="647.5" width="17" height="13" fill="none" stroke="#000" stroke-width="1"/>
<path d="M321.3,650.2 H325.5 V657.4 H321.3" fill="none" stroke="#000" stroke-width="1" stroke-linejoin="miter"/>
<line x1="321.3" y1="657.4" x2="321.3" y2="686" stroke="#000" stroke-width="1.3" stroke-linecap="butt"/>
<line x1="349.7" y1="561.4" x2="349.7" y2="575.5" stroke="#000" stroke-width="1.3" stroke-linecap="butt"/>
<line x1="346.1" y1="572.2" x2="353.3" y2="579.4" stroke="#000" stroke-width="1" stroke-linecap="butt"/>
<line x1="346.1" y1="579.4" x2="353.3" y2="572.2" stroke="#000" stroke-width="1" stroke-linecap="butt"/>
<line x1="339.4" y1="575.3" x2="349.7" y2="595.8" stroke="#000" stroke-width="1" stroke-linecap="butt"/>
<line x1="349.7" y1="595.7" x2="349.7" y2="615.8" stroke="#000" stroke-width="1.3" stroke-linecap="butt"/>
<path d="M349.7,607.7 A4.8,4.05 0 0 0 349.7,615.8" fill="none" stroke="#000" stroke-width="1" stroke-linejoin="round"/>
<line x1="340.4" y1="616.2" x2="349.7" y2="633.5" stroke="#000" stroke-width="1" stroke-linecap="butt"/>
<line x1="349.7" y1="633.5" x2="349.7" y2="650.2" stroke="#000" stroke-width="1.3" stroke-linecap="butt"/>
<rect x="340.5" y="647.5" width="18" height="13" fill="none" stroke="#000" stroke-width="1"/>
<path d="M349.7,650.2 H353.9 V657.4 H349.7" fill="none" stroke="#000" stroke-width="1" stroke-linejoin="miter"/>
<line x1="349.7" y1="657.4" x2="349.7" y2="686" stroke="#000" stroke-width="1.3" stroke-linecap="butt"/>
<line x1="378.3" y1="561.4" x2="378.3" y2="575.5" stroke="#000" stroke-width="1.3" stroke-linecap="butt"/>
<line x1="374.7" y1="572.2" x2="381.9" y2="579.4" stroke="#000" stroke-width="1" stroke-linecap="butt"/>
<line x1="374.7" y1="579.4" x2="381.9" y2="572.2" stroke="#000" stroke-width="1" stroke-linecap="butt"/>
<line x1="368" y1="575.3" x2="378.3" y2="595.8" stroke="#000" stroke-width="1" stroke-linecap="butt"/>
<line x1="378.3" y1="595.7" x2="378.3" y2="615.8" stroke="#000" stroke-width="1.3" stroke-linecap="butt"/>
<path d="M378.3,607.7 A4.8,4.05 0 0 0 378.3,615.8" fill="none" stroke="#000" stroke-width="1" stroke-linejoin="round"/>
<line x1="369" y1="616.2" x2="378.3" y2="633.5" stroke="#000" stroke-width="1" stroke-linecap="butt"/>
<line x1="378.3" y1="633.5" x2="378.3" y2="650.2" stroke="#000" stroke-width="1.3" stroke-linecap="butt"/>
<rect x="369.5" y="647.5" width="17" height="13" fill="none" stroke="#000" stroke-width="1"/>
<path d="M378.3,650.2 H382.5 V657.4 H378.3" fill="none" stroke="#000" stroke-width="1" stroke-linejoin="miter"/>
<line x1="378.3" y1="657.4" x2="378.3" y2="686" stroke="#000" stroke-width="1.3" stroke-linecap="butt"/>
<circle cx="386.4" cy="624.2" r="1.3" fill="#000"/>
<circle cx="390.37" cy="624.2" r="1.3" fill="#000"/>
<circle cx="394.33" cy="624.2" r="1.3" fill="#000"/>
<circle cx="398.3" cy="624.2" r="1.3" fill="#000"/>
<circle cx="402.27" cy="624.2" r="1.3" fill="#000"/>
<circle cx="406.23" cy="624.2" r="1.3" fill="#000"/>
<circle cx="410.2" cy="624.2" r="1.3" fill="#000"/>
<rect x="509.5" y="358.5" width="185" height="206" fill="none" stroke="#3a3a3a" stroke-width="1"/>
<line x1="562" y1="367.5" x2="574" y2="367.5" stroke="#000" stroke-width="1" stroke-linecap="butt"/>
<circle cx="568" cy="370.7" r="2.8" fill="none" stroke="#000" stroke-width="1"/>
<line x1="559" y1="368" x2="568" y2="390" stroke="#000" stroke-width="1" stroke-linecap="butt"/>
<line x1="568" y1="390" x2="568" y2="406" stroke="#000" stroke-width="1.3" stroke-linecap="butt"/>
<line x1="562" y1="406.5" x2="574" y2="406.5" stroke="#000" stroke-width="1" stroke-linecap="butt"/>
<circle cx="568" cy="409.2" r="2.8" fill="none" stroke="#000" stroke-width="1"/>
<line x1="558" y1="406.5" x2="568" y2="432.5" stroke="#000" stroke-width="1" stroke-linecap="butt"/>
<line x1="568" y1="432.5" x2="568" y2="447.4" stroke="#000" stroke-width="1.3" stroke-linecap="butt"/>
<line x1="598" y1="367.5" x2="610" y2="367.5" stroke="#000" stroke-width="1" stroke-linecap="butt"/>
<circle cx="604" cy="370.7" r="2.8" fill="none" stroke="#000" stroke-width="1"/>
<line x1="595" y1="368" x2="604" y2="390" stroke="#000" stroke-width="1" stroke-linecap="butt"/>
<line x1="604" y1="390" x2="604" y2="406" stroke="#000" stroke-width="1.3" stroke-linecap="butt"/>
<line x1="598" y1="406.5" x2="610" y2="406.5" stroke="#000" stroke-width="1" stroke-linecap="butt"/>
<circle cx="604" cy="409.2" r="2.8" fill="none" stroke="#000" stroke-width="1"/>
<line x1="594" y1="406.5" x2="604" y2="432.5" stroke="#000" stroke-width="1" stroke-linecap="butt"/>
<line x1="604" y1="432.5" x2="604" y2="447.4" stroke="#000" stroke-width="1.3" stroke-linecap="butt"/>
<rect x="552.5" y="397.5" width="63" height="58" fill="none" stroke="#3a3a3a" stroke-width="1"/>
<line x1="561" y1="419" x2="597" y2="419" stroke="#000" stroke-width="1.6" stroke-linecap="butt"/>
<path d="M578.3,419 L585.7,419 L582,425 Z" fill="#fff" stroke="#3a3a3a" stroke-width="0.8" stroke-linejoin="miter"/>
<line x1="567.3" y1="447.4" x2="604.7" y2="447.4" stroke="#000" stroke-width="1.6" stroke-linecap="butt"/>
<circle cx="586" cy="447.4" r="2.1" fill="#000" stroke="#000" stroke-width="0.5"/>
<line x1="586" y1="447.4" x2="586" y2="473.3" stroke="#000" stroke-width="1.6" stroke-linecap="butt"/>
<circle cx="586" cy="462.2" r="2.1" fill="#000" stroke="#000" stroke-width="0.5"/>
<path d="M586,462.2 H521.8" fill="none" stroke="#000" stroke-width="1.4" stroke-linejoin="miter"/>
<line x1="522" y1="461.4" x2="522" y2="507.15" stroke="#000" stroke-width="1.2" stroke-linecap="butt"/>
<rect x="518.5" y="472.5" width="7" height="15" fill="none" stroke="#000" stroke-width="1"/>
<rect x="516.5" y="496.5" width="12" height="22" fill="none" stroke="#000" stroke-width="1"/>
<path d="M520.3,503.95 L522,508.75 L523.7,503.95 Z" fill="#000"/>
<line x1="522.5" y1="518.3" x2="522.5" y2="526.5" stroke="#000" stroke-width="1" stroke-linecap="butt"/>
<line x1="517" y1="526.5" x2="527" y2="526.5" stroke="#3a3a3a" stroke-width="1" stroke-linecap="butt"/>
<line x1="519" y1="529.5" x2="525" y2="529.5" stroke="#3a3a3a" stroke-width="1" stroke-linecap="butt"/>
<line x1="520.5" y1="531.5" x2="523.5" y2="531.5" stroke="#3a3a3a" stroke-width="1" stroke-linecap="butt"/>
<rect x="575.5" y="473.5" width="21" height="20" fill="#fff" stroke="#000" stroke-width="1"/>
<line x1="596.8" y1="483.5" x2="635.6" y2="483.5" stroke="#222" stroke-width="0.9" stroke-linecap="butt"/>
<rect x="635.5" y="474.5" width="39" height="19" fill="none" stroke="#000" stroke-width="1"/>
<line x1="653.5" y1="493.8" x2="653.5" y2="504.3" stroke="#222" stroke-width="0.9" stroke-linecap="butt"/>
<rect x="643.5" y="504.5" width="20" height="19" fill="none" stroke="#000" stroke-width="1"/>
<line x1="586" y1="493.8" x2="586" y2="507.9" stroke="#000" stroke-width="1.4" stroke-linecap="butt"/>
<line x1="546" y1="507.9" x2="626.8" y2="507.9" stroke="#000" stroke-width="2.4" stroke-linecap="butt"/>
<circle cx="586" cy="507.9" r="2" fill="#000" stroke="#000" stroke-width="0.5"/>
<line x1="556.7" y1="507.9" x2="556.7" y2="525" stroke="#000" stroke-width="1.3" stroke-linecap="butt"/>
<line x1="553.1" y1="521.9" x2="560.3" y2="529.1" stroke="#000" stroke-width="1" stroke-linecap="butt"/>
<line x1="553.1" y1="529.1" x2="560.3" y2="521.9" stroke="#000" stroke-width="1" stroke-linecap="butt"/>
<line x1="546.7" y1="525" x2="556.7" y2="546" stroke="#000" stroke-width="1" stroke-linecap="butt"/>
<line x1="556.7" y1="546" x2="556.7" y2="583" stroke="#000" stroke-width="1.3" stroke-linecap="butt"/>
<line x1="586" y1="507.9" x2="586" y2="525" stroke="#000" stroke-width="1.3" stroke-linecap="butt"/>
<line x1="582.4" y1="521.9" x2="589.6" y2="529.1" stroke="#000" stroke-width="1" stroke-linecap="butt"/>
<line x1="582.4" y1="529.1" x2="589.6" y2="521.9" stroke="#000" stroke-width="1" stroke-linecap="butt"/>
<line x1="576" y1="525" x2="586" y2="546" stroke="#000" stroke-width="1" stroke-linecap="butt"/>
<line x1="586" y1="546" x2="586" y2="583" stroke="#000" stroke-width="1.3" stroke-linecap="butt"/>
<line x1="614.7" y1="507.9" x2="614.7" y2="525" stroke="#000" stroke-width="1.3" stroke-linecap="butt"/>
<line x1="611.1" y1="521.9" x2="618.3" y2="529.1" stroke="#000" stroke-width="1" stroke-linecap="butt"/>
<line x1="611.1" y1="529.1" x2="618.3" y2="521.9" stroke="#000" stroke-width="1" stroke-linecap="butt"/>
<line x1="604.7" y1="525" x2="614.7" y2="546" stroke="#000" stroke-width="1" stroke-linecap="butt"/>
<line x1="614.7" y1="546" x2="614.7" y2="583" stroke="#000" stroke-width="1.3" stroke-linecap="butt"/>
<circle cx="552" cy="535.5" r="2" fill="none" stroke="#000" stroke-width="0.8"/>
<circle cx="623.9" cy="534.6" r="1.3" fill="#000"/>
<circle cx="627.7" cy="534.6" r="1.3" fill="#000"/>
<circle cx="631.5" cy="534.6" r="1.3" fill="#000"/>
<circle cx="635.3" cy="534.6" r="1.3" fill="#000"/>
<circle cx="639.1" cy="534.6" r="1.3" fill="#000"/>
<circle cx="642.9" cy="534.6" r="1.3" fill="#000"/>
<circle cx="646.7" cy="534.6" r="1.3" fill="#000"/>
<rect x="746.5" y="292.5" width="192" height="145" fill="none" stroke="#3a3a3a" stroke-width="1"/>
<line x1="806.7" y1="306.5" x2="818.7" y2="306.5" stroke="#000" stroke-width="1" stroke-linecap="butt"/>
<circle cx="812.7" cy="309.2" r="2.8" fill="none" stroke="#000" stroke-width="1"/>
<line x1="803.3" y1="306.5" x2="812.7" y2="329" stroke="#000" stroke-width="1" stroke-linecap="butt"/>
<line x1="812.7" y1="329" x2="812.7" y2="345.2" stroke="#000" stroke-width="1.4" stroke-linecap="butt"/>
<line x1="758" y1="345.2" x2="875" y2="345.2" stroke="#000" stroke-width="2.4" stroke-linecap="butt"/>
<circle cx="812.7" cy="345.2" r="2" fill="#000" stroke="#000" stroke-width="0.5"/>
<line x1="768.4" y1="345.2" x2="768.4" y2="404.8" stroke="#000" stroke-width="1.2" stroke-linecap="butt"/>
<rect x="764.5" y="369.5" width="8" height="16" fill="none" stroke="#000" stroke-width="1"/>
<rect x="762.5" y="393.5" width="12" height="23" fill="none" stroke="#000" stroke-width="1"/>
<path d="M766.7,401.6 L768.4,406.4 L770.1,401.6 Z" fill="#000"/>
<line x1="768.5" y1="416" x2="768.5" y2="424" stroke="#000" stroke-width="1" stroke-linecap="butt"/>
<line x1="763.4" y1="424.5" x2="773.4" y2="424.5" stroke="#3a3a3a" stroke-width="1" stroke-linecap="butt"/>
<line x1="765.4" y1="426.5" x2="771.4" y2="426.5" stroke="#3a3a3a" stroke-width="1" stroke-linecap="butt"/>
<line x1="766.9" y1="429.5" x2="769.9" y2="429.5" stroke="#3a3a3a" stroke-width="1" stroke-linecap="butt"/>
<rect x="890.5" y="341.5" width="38" height="19" fill="none" stroke="#000" stroke-width="1"/>
<path d="M806.5,384.5 H909.5 V360.5" fill="none" stroke="#222" stroke-width="0.9" stroke-linejoin="miter"/>
<line x1="796.5" y1="345.2" x2="796.5" y2="361" stroke="#000" stroke-width="1.3" stroke-linecap="butt"/>
<line x1="792.9" y1="357.8" x2="800.1" y2="365" stroke="#000" stroke-width="1" stroke-linecap="butt"/>
<line x1="792.9" y1="365" x2="800.1" y2="357.8" stroke="#000" stroke-width="1" stroke-linecap="butt"/>
<line x1="786.5" y1="360.9" x2="796.5" y2="383.4" stroke="#000" stroke-width="1" stroke-linecap="butt"/>
<line x1="796.5" y1="383.3" x2="796.5" y2="395.8" stroke="#000" stroke-width="1.3" stroke-linecap="butt"/>
<line x1="796.5" y1="395.8" x2="807.5" y2="384.8" stroke="#222" stroke-width="0.9" stroke-linecap="butt"/>
<rect x="786.5" y="395.5" width="21" height="21" fill="#fff" stroke="#000" stroke-width="1"/>
<line x1="827.7" y1="345.2" x2="827.7" y2="361" stroke="#000" stroke-width="1.3" stroke-linecap="butt"/>
<line x1="824.1" y1="357.8" x2="831.3" y2="365" stroke="#000" stroke-width="1" stroke-linecap="butt"/>
<line x1="824.1" y1="365" x2="831.3" y2="357.8" stroke="#000" stroke-width="1" stroke-linecap="butt"/>
<line x1="817.7" y1="360.9" x2="827.7" y2="383.4" stroke="#000" stroke-width="1" stroke-linecap="butt"/>
<line x1="827.7" y1="383.3" x2="827.7" y2="395.8" stroke="#000" stroke-width="1.3" stroke-linecap="butt"/>
<line x1="827.7" y1="395.8" x2="838.7" y2="384.8" stroke="#222" stroke-width="0.9" stroke-linecap="butt"/>
<rect x="817.5" y="395.5" width="21" height="21" fill="#fff" stroke="#000" stroke-width="1"/>
<line x1="827.7" y1="416" x2="827.7" y2="453.5" stroke="#000" stroke-width="1.3" stroke-linecap="butt"/>
<line x1="859" y1="345.2" x2="859" y2="361" stroke="#000" stroke-width="1.3" stroke-linecap="butt"/>
<line x1="855.4" y1="357.8" x2="862.6" y2="365" stroke="#000" stroke-width="1" stroke-linecap="butt"/>
<line x1="855.4" y1="365" x2="862.6" y2="357.8" stroke="#000" stroke-width="1" stroke-linecap="butt"/>
<line x1="849" y1="360.9" x2="859" y2="383.4" stroke="#000" stroke-width="1" stroke-linecap="butt"/>
<line x1="859" y1="383.3" x2="859" y2="395.8" stroke="#000" stroke-width="1.3" stroke-linecap="butt"/>
<line x1="859" y1="395.8" x2="870" y2="384.8" stroke="#222" stroke-width="0.9" stroke-linecap="butt"/>
<rect x="848.5" y="395.5" width="21" height="21" fill="#fff" stroke="#000" stroke-width="1"/>
<line x1="859" y1="416" x2="859" y2="453.5" stroke="#000" stroke-width="1.3" stroke-linecap="butt"/>
<circle cx="868.3" cy="370.8" r="1.3" fill="#000"/>
<circle cx="872.03" cy="370.8" r="1.3" fill="#000"/>
<circle cx="875.77" cy="370.8" r="1.3" fill="#000"/>
<circle cx="879.5" cy="370.8" r="1.3" fill="#000"/>
<circle cx="883.23" cy="370.8" r="1.3" fill="#000"/>
<circle cx="886.97" cy="370.8" r="1.3" fill="#000"/>
<circle cx="890.7" cy="370.8" r="1.3" fill="#000"/>
<rect x="754.5" y="504.5" width="176" height="97" fill="none" stroke="#3a3a3a" stroke-width="1"/>
<rect x="791.5" y="528.5" width="82" height="18" fill="#fff" stroke="#000" stroke-width="1"/>
<line x1="805" y1="546.7" x2="805" y2="562" stroke="#000" stroke-width="1.3" stroke-linecap="butt"/>
<line x1="801.4" y1="559.1" x2="808.6" y2="566.3" stroke="#000" stroke-width="1" stroke-linecap="butt"/>
<line x1="801.4" y1="566.3" x2="808.6" y2="559.1" stroke="#000" stroke-width="1" stroke-linecap="butt"/>
<line x1="795" y1="562.2" x2="805" y2="582.7" stroke="#000" stroke-width="1" stroke-linecap="butt"/>
<line x1="805" y1="582.3" x2="805" y2="620.7" stroke="#000" stroke-width="1.3" stroke-linecap="butt"/>
<line x1="833.7" y1="546.7" x2="833.7" y2="562" stroke="#000" stroke-width="1.3" stroke-linecap="butt"/>
<line x1="830.1" y1="559.1" x2="837.3" y2="566.3" stroke="#000" stroke-width="1" stroke-linecap="butt"/>
<line x1="830.1" y1="566.3" x2="837.3" y2="559.1" stroke="#000" stroke-width="1" stroke-linecap="butt"/>
<line x1="823.7" y1="562.2" x2="833.7" y2="582.7" stroke="#000" stroke-width="1" stroke-linecap="butt"/>
<line x1="833.7" y1="582.3" x2="833.7" y2="620.7" stroke="#000" stroke-width="1.3" stroke-linecap="butt"/>
<line x1="862.7" y1="546.7" x2="862.7" y2="562" stroke="#000" stroke-width="1.3" stroke-linecap="butt"/>
<line x1="859.1" y1="559.1" x2="866.3" y2="566.3" stroke="#000" stroke-width="1" stroke-linecap="butt"/>
<line x1="859.1" y1="566.3" x2="866.3" y2="559.1" stroke="#000" stroke-width="1" stroke-linecap="butt"/>
<line x1="852.7" y1="562.2" x2="862.7" y2="582.7" stroke="#000" stroke-width="1" stroke-linecap="butt"/>
<line x1="862.7" y1="582.3" x2="862.7" y2="620.7" stroke="#000" stroke-width="1.3" stroke-linecap="butt"/>
<circle cx="800" cy="572.5" r="2" fill="none" stroke="#000" stroke-width="0.8"/>
<circle cx="871.3" cy="572" r="1.3" fill="#000"/>
<circle cx="875.25" cy="572" r="1.3" fill="#000"/>
<circle cx="879.2" cy="572" r="1.3" fill="#000"/>
<circle cx="883.15" cy="572" r="1.3" fill="#000"/>
<circle cx="887.1" cy="572" r="1.3" fill="#000"/>
<circle cx="891.05" cy="572" r="1.3" fill="#000"/>
<circle cx="895" cy="572" r="1.3" fill="#000"/>
<g font-weight="500" stroke="#000">
<text transform="translate(46.8,195.2) scale(0.1285,0.3036) translate(0,27)" font-size="40" letter-spacing="4" stroke-width="1.3" xml:space="preserve">ARCM200L-J8</text>
<text transform="translate(21.3,15.3) scale(0.2100,0.2605) translate(-3,34)" font-size="40" letter-spacing="6" stroke-width="0.45" xml:space="preserve">1号变压器</text>
<text transform="translate(5.1,27.2) scale(0.1827,0.2484) translate(-3,29)" font-size="40" letter-spacing="4" stroke-width="0.8" xml:space="preserve">10kV</text>
<text transform="translate(670,194.8) scale(0.1351,0.3179) translate(0,27)" font-size="40" letter-spacing="4" stroke-width="1.3" xml:space="preserve">ARCM200L-J8</text>
<text transform="translate(709,15) scale(0.2099,0.2789) translate(-1,34)" font-size="40" letter-spacing="6" stroke-width="0.45" xml:space="preserve">2号变压器</text>
<text transform="translate(752.4,26) scale(0.1857,0.2452) translate(-3,29)" font-size="40" letter-spacing="4" stroke-width="0.8" xml:space="preserve">10kV</text>
<text transform="translate(199,108) scale(0.2473,0.3207) translate(-1,27)" font-size="40" letter-spacing="4" stroke-width="0.8" xml:space="preserve">220V/380V</text>
<text transform="translate(523.5,107.7) scale(0.2432,0.3552) translate(-1,27)" font-size="40" letter-spacing="4" stroke-width="0.8" xml:space="preserve">220V/380V</text>
<text transform="translate(111.5,212.8) scale(0.1481,0.2429) translate(0,27)" font-size="40" letter-spacing="4" stroke-width="1.3" xml:space="preserve">R</text>
<text transform="translate(163.7,212.8) scale(0.1481,0.2429) translate(0,27)" font-size="40" letter-spacing="4" stroke-width="1.3" xml:space="preserve">R</text>
<text transform="translate(215.9,212.8) scale(0.1481,0.2429) translate(0,27)" font-size="40" letter-spacing="4" stroke-width="1.3" xml:space="preserve">R</text>
<text transform="translate(268.1,212.8) scale(0.1481,0.2429) translate(0,27)" font-size="40" letter-spacing="4" stroke-width="1.3" xml:space="preserve">R</text>
<text transform="translate(320.3,212.8) scale(0.1481,0.2429) translate(0,27)" font-size="40" letter-spacing="4" stroke-width="1.3" xml:space="preserve">R</text>
<text transform="translate(462,212.8) scale(0.1481,0.2429) translate(0,27)" font-size="40" letter-spacing="4" stroke-width="1.3" xml:space="preserve">R</text>
<text transform="translate(522.7,212.8) scale(0.1481,0.2429) translate(0,27)" font-size="40" letter-spacing="4" stroke-width="1.3" xml:space="preserve">R</text>
<text transform="translate(583.5,212.8) scale(0.1481,0.2429) translate(0,27)" font-size="40" letter-spacing="4" stroke-width="1.3" xml:space="preserve">R</text>
<text transform="translate(644.3,212.8) scale(0.1481,0.2429) translate(0,27)" font-size="40" letter-spacing="4" stroke-width="1.3" xml:space="preserve">R</text>
<text transform="translate(334,196) scale(0.2371,0.3000) translate(-1,34)" font-size="40" letter-spacing="6" stroke-width="0.45" xml:space="preserve">备 用</text>
<text transform="translate(427.5,196) scale(0.2392,0.3000) translate(-1,34)" font-size="40" letter-spacing="6" stroke-width="0.45" xml:space="preserve">备 用</text>
<text transform="translate(366.3,223.7) scale(0.2644,0.3667) translate(-1,35)" font-size="40" letter-spacing="6" stroke-width="0.45" xml:space="preserve">第一级配电</text>
<text transform="translate(882,108.5) scale(0.2682,0.3205) translate(-2,35)" font-size="40" letter-spacing="6" stroke-width="0.45" xml:space="preserve">消防监控室</text>
<text transform="translate(877,138.6) scale(0.2280,0.3333) translate(0,29)" font-size="40" letter-spacing="4" stroke-width="0.8" xml:space="preserve">Acrel-6000/Q-<tspan font-family="Noto Serif CJK SC" font-size="29" dy="-2">□</tspan></text>
<text transform="translate(879,153.9) scale(0.2127,0.2692) translate(-1,35)" font-size="40" letter-spacing="6" stroke-width="0.45" xml:space="preserve">琴台式监控设备</text>
<text transform="translate(901.8,184.2) scale(0.1954,0.2964) translate(0,27)" font-size="40" letter-spacing="4" stroke-width="0.8" xml:space="preserve">AFQ</text>
<text transform="translate(767,212) rotate(-90) scale(0.2458,0.3750) translate(-1,27)" font-size="40" letter-spacing="4" stroke-width="0.8" xml:space="preserve">ZRRVSP-2x1.5-SC15</text>
<text transform="translate(786,214) rotate(-90) scale(0.2695,0.3929) translate(-1,27)" font-size="40" letter-spacing="4" stroke-width="0.8" xml:space="preserve">MWT1,</text>
<text transform="translate(784,173) rotate(-90) scale(0.2313,0.3684) translate(-1,34)" font-size="40" letter-spacing="6" stroke-width="0.45" xml:space="preserve">上传通信总线</text>
<text transform="translate(809.5,256.5) scale(0.2092,0.3750) translate(-1,27)" font-size="40" letter-spacing="4" stroke-width="0.8" xml:space="preserve">MWT2,</text>
<text transform="translate(841.6,255.5) scale(0.2552,0.3289) translate(-1,34)" font-size="40" letter-spacing="6" stroke-width="0.45" xml:space="preserve">上传通信总线</text>
<text transform="translate(924,256.5) scale(0.1797,0.3571) translate(-1,27)" font-size="40" letter-spacing="4" stroke-width="0.8" xml:space="preserve">MWT3</text>
<text transform="translate(813.5,270.3) scale(0.2429,0.4143) translate(-1,27)" font-size="40" letter-spacing="4" stroke-width="0.8" xml:space="preserve">ZRRVSP-2x1.5-SC15</text>
<text transform="translate(916.2,269.7) scale(0.2642,0.3368) translate(-1,34)" font-size="40" letter-spacing="6" stroke-width="0.45" xml:space="preserve">上传通信总线</text>
<text transform="translate(947,456) rotate(-90) scale(0.2458,0.3929) translate(-1,27)" font-size="40" letter-spacing="4" stroke-width="0.8" xml:space="preserve">ZRRVSP-2x1.5-SC15</text>
<text transform="translate(166.7,296) scale(0.2671,0.3590) translate(-1,35)" font-size="40" letter-spacing="6" stroke-width="0.45" xml:space="preserve">第二级配电</text>
<text transform="translate(161,341.5) scale(0.1327,0.3214) translate(0,27)" font-size="40" letter-spacing="4" stroke-width="1.3" xml:space="preserve">ARCM200L-Z</text>
<text transform="translate(131.5,371) scale(0.2222,0.3571) translate(0,27)" font-size="40" letter-spacing="4" stroke-width="1.3" xml:space="preserve">R</text>
<text transform="translate(118,469) scale(0.2879,0.3421) translate(-1,34)" font-size="40" letter-spacing="6" stroke-width="0.45" xml:space="preserve">照 明</text>
<text transform="translate(165,514.4) scale(0.2689,0.3487) translate(-1,35)" font-size="40" letter-spacing="6" stroke-width="0.45" xml:space="preserve">第二级配电</text>
<text transform="translate(159.5,561) scale(0.1254,0.3214) translate(0,27)" font-size="40" letter-spacing="4" stroke-width="1.3" xml:space="preserve">ARCM200L-Z2</text>
<text transform="translate(131,591.2) scale(0.2222,0.3571) translate(0,27)" font-size="40" letter-spacing="4" stroke-width="1.3" xml:space="preserve">R</text>
<text transform="translate(202,590.4) scale(0.2189,0.3643) translate(0,27)" font-size="40" letter-spacing="4" stroke-width="0.8" xml:space="preserve">TT</text>
<text transform="translate(118,689) scale(0.2828,0.3684) translate(-1,34)" font-size="40" letter-spacing="6" stroke-width="0.45" xml:space="preserve">照 明</text>
<text transform="translate(382.4,297) scale(0.2572,0.3590) translate(-1,35)" font-size="40" letter-spacing="6" stroke-width="0.45" xml:space="preserve">第二级配电</text>
<text transform="translate(345.3,348) scale(0.2222,0.3571) translate(0,27)" font-size="40" letter-spacing="4" stroke-width="1.3" xml:space="preserve">R</text>
<text transform="translate(395.5,348.5) scale(0.1322,0.3214) translate(0,27)" font-size="40" letter-spacing="4" stroke-width="1.3" xml:space="preserve">ARCM300-J1</text>
<text transform="translate(348.8,452) scale(0.2925,0.3333) translate(-5,35)" font-size="40" letter-spacing="6" stroke-width="0.45" xml:space="preserve">电 力</text>
<text transform="translate(371.4,483) scale(0.2640,0.3590) translate(-1,35)" font-size="40" letter-spacing="6" stroke-width="0.45" xml:space="preserve">第二级配电</text>
<text transform="translate(346.7,532.5) scale(0.2222,0.3571) translate(0,27)" font-size="40" letter-spacing="4" stroke-width="1.3" xml:space="preserve">R</text>
<text transform="translate(395.2,533.3) scale(0.1132,0.3000) translate(0,27)" font-size="40" letter-spacing="4" stroke-width="1.3" xml:space="preserve">ARCM200L-U1</text>
<text transform="translate(316,688.8) scale(0.2664,0.3641) translate(-1,35)" font-size="40" letter-spacing="6" stroke-width="0.45" xml:space="preserve">空调通风设备</text>
<text transform="translate(632.7,361.6) scale(0.2644,0.3590) translate(-1,35)" font-size="40" letter-spacing="6" stroke-width="0.45" xml:space="preserve">第二级配电</text>
<text transform="translate(583,479) scale(0.2222,0.3571) translate(0,27)" font-size="40" letter-spacing="4" stroke-width="1.3" xml:space="preserve">R</text>
<text transform="translate(637,479.4) scale(0.1147,0.3214) translate(0,27)" font-size="40" letter-spacing="4" stroke-width="1.3" xml:space="preserve">ARCM200BL-J1</text>
<text transform="translate(647.5,509.1) scale(0.2151,0.3571) translate(0,27)" font-size="40" letter-spacing="4" stroke-width="0.8" xml:space="preserve">TT</text>
<text transform="translate(563,587) scale(0.2686,0.3816) translate(-2,34)" font-size="40" letter-spacing="6" stroke-width="0.45" xml:space="preserve">多功能厅</text>
<text transform="translate(469,621) scale(0.2617,0.3590) translate(-1,35)" font-size="40" letter-spacing="6" stroke-width="0.45" xml:space="preserve">注:<tspan dx="9">低压配电系统剩余电流保护按二级电</tspan></text>
<text transform="translate(484,640.6) scale(0.2654,0.3273) translate(-1,35)" font-size="40" letter-spacing="6" stroke-width="0.45" xml:space="preserve">气火灾监控设置，供设计时参考.</text>
<text transform="translate(877.3,297.5) scale(0.2644,0.3590) translate(-1,35)" font-size="40" letter-spacing="6" stroke-width="0.45" xml:space="preserve">第二级配电</text>
<text transform="translate(892,347.3) scale(0.1102,0.2857) translate(0,27)" font-size="40" letter-spacing="4" stroke-width="1.3" xml:space="preserve">ARCM200BL-J4</text>
<text transform="translate(793.5,401) scale(0.2222,0.3571) translate(0,27)" font-size="40" letter-spacing="4" stroke-width="1.3" xml:space="preserve">R</text>
<text transform="translate(824.7,401) scale(0.2222,0.3571) translate(0,27)" font-size="40" letter-spacing="4" stroke-width="1.3" xml:space="preserve">R</text>
<text transform="translate(856,401) scale(0.2222,0.3571) translate(0,27)" font-size="40" letter-spacing="4" stroke-width="1.3" xml:space="preserve">R</text>
<text transform="translate(827.7,459.8) scale(0.3364,0.4000) translate(-1,34)" font-size="40" letter-spacing="6" stroke-width="0.45" xml:space="preserve">照 明</text>
<text transform="translate(756.7,506.6) scale(0.2644,0.3590) translate(-1,35)" font-size="40" letter-spacing="6" stroke-width="0.45" xml:space="preserve">第三级配电</text>
<text transform="translate(823.5,533.75) scale(0.2297,0.3679) translate(-1,27)" font-size="40" letter-spacing="4" stroke-width="0.8" xml:space="preserve">EPS</text>
<text transform="translate(876.7,522.3) scale(0.2703,0.3605) translate(-1,34)" font-size="40" letter-spacing="6" stroke-width="0.45" xml:space="preserve">集中应急</text>
<text transform="translate(876.7,542.5) scale(0.2687,0.3421) translate(-1,34)" font-size="40" letter-spacing="6" stroke-width="0.45" xml:space="preserve">照明装置</text>
<text transform="translate(809,624) scale(0.2657,0.3684) translate(-1,34)" font-size="40" letter-spacing="6" stroke-width="0.45" xml:space="preserve">应急照明</text>
</g>
</svg>
</body></html>
